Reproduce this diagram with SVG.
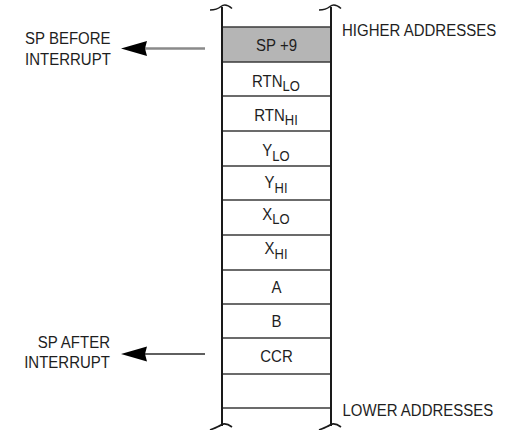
<svg xmlns="http://www.w3.org/2000/svg" width="517" height="430" viewBox="0 0 517 430">
<style>
text{font-family:"Liberation Sans",Arial,sans-serif;font-size:15px;fill:#1e1e1e}
.c{text-anchor:middle}
.e{text-anchor:end}
.s{font-size:13px}
.row{stroke:#3a3a3a;stroke-width:1.6;fill:none}
.col{stroke:#1a1a1a;stroke-width:2;fill:none}
.brk{stroke:#1a1a1a;stroke-width:1.6;fill:none}
.head{fill:#000}
</style>
<g id="stack">
<rect x="222" y="27" width="109" height="35" fill="#b5b5b5"/>
<g class="row">
<line x1="222" y1="27" x2="331" y2="27"/>
<line x1="222" y1="62" x2="331" y2="62"/>
<line x1="222" y1="96" x2="331" y2="96"/>
<line x1="222" y1="131" x2="331" y2="131"/>
<line x1="222" y1="166" x2="331" y2="166"/>
<line x1="222" y1="200" x2="331" y2="200"/>
<line x1="222" y1="235" x2="331" y2="235"/>
<line x1="222" y1="270" x2="331" y2="270"/>
<line x1="222" y1="304" x2="331" y2="304"/>
<line x1="222" y1="338" x2="331" y2="338"/>
<line x1="222" y1="374" x2="331" y2="374"/>
<line x1="222" y1="408" x2="331" y2="408"/>
</g>
<g class="col">
<line x1="222" y1="7" x2="222" y2="426"/>
<line x1="331" y1="7" x2="331" y2="426"/>
</g>
<g class="brk">
<path d="M210,10 C215,10 218,9 221,6.5 C224,4 228,5 232,8.5"/>
<path d="M319,10 C324,10 327,9 330,6.5 C333,4 337,5 341,8.5"/>
<path d="M210,430 C215,428 218,427 221,425 C224,423 228,424 232,427"/>
<path d="M319,430 C324,428 327,427 330,425 C333,423 337,424 341,427"/>
</g>
</g>
<g id="cell-sp9"><text class="c" transform="translate(276.5,51) scale(1,1.15)">SP +9</text></g>
<g id="cell-rtnlo"><text class="c" transform="translate(276,86.5) scale(1,1.15)">RTN<tspan class="s" dy="4">LO</tspan></text></g>
<g id="cell-rtnhi"><text class="c" transform="translate(276,120.5) scale(1,1.15)">RTN<tspan class="s" dy="4">HI</tspan></text></g>
<g id="cell-ylo"><text class="c" transform="translate(276,156) scale(1,1.15)">Y<tspan class="s" dy="4">LO</tspan></text></g>
<g id="cell-yhi"><text class="c" transform="translate(276,188) scale(1,1.15)">Y<tspan class="s" dy="4">HI</tspan></text></g>
<g id="cell-xlo"><text class="c" transform="translate(276,219.5) scale(1,1.15)">X<tspan class="s" dy="4">LO</tspan></text></g>
<g id="cell-xhi"><text class="c" transform="translate(276,254) scale(1,1.15)">X<tspan class="s" dy="4">HI</tspan></text></g>
<g id="cell-a"><text class="c" transform="translate(276.5,293) scale(1,1.15)">A</text></g>
<g id="cell-b"><text class="c" transform="translate(276.5,327) scale(1,1.15)">B</text></g>
<g id="cell-ccr"><text class="c" transform="translate(276.5,361.5) scale(1,1.15)">CCR</text></g>
<g id="label-before">
<text transform="translate(25,44) scale(1,1.15)">SP BEFORE</text>
<text transform="translate(25,64.5) scale(1,1.15)">INTERRUPT</text>
</g>
<g id="label-after">
<text class="e" transform="translate(110,347.5) scale(1,1.15)">SP AFTER</text>
<text class="e" transform="translate(110,367.5) scale(1,1.15)">INTERRUPT</text>
</g>
<g id="label-higher"><text transform="translate(342,36) scale(1,1.15)">HIGHER ADDRESSES</text></g>
<g id="label-lower"><text transform="translate(342.5,415.5) scale(1,1.15)">LOWER ADDRESSES</text></g>
<g id="connectors">
<line x1="205" y1="48.5" x2="144" y2="48.5" stroke="#8a8a8a" stroke-width="2.6"/>
<path class="head" d="M121,48.5 L147,41 L145,48.5 L147,56 Z"/>
<line x1="205" y1="354" x2="144" y2="354" stroke="#2a2a2a" stroke-width="1.6"/>
<path class="head" d="M121,354 L147,346.5 L145,354 L147,361.5 Z"/>
</g>
</svg>
